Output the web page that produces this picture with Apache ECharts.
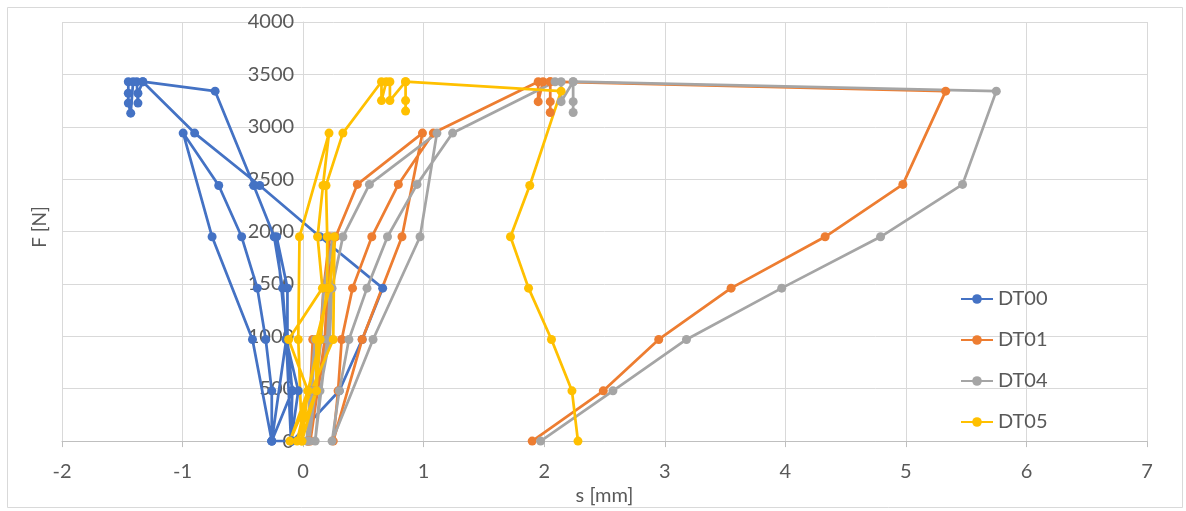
<!DOCTYPE html>
<html>
<head>
<meta charset="utf-8">
<script src="https://cdn.jsdelivr.net/npm/echarts@6/dist/echarts.min.js"></script>
<style>
html,body{margin:0;padding:0;background:#fff;}
#c{width:1186px;height:511px;}
</style>
</head>
<body>
<div id="c"></div>
<script>
// ---- data: [s (mm), F (N)] in measurement order ----
const seriesNames = ['DT00', 'DT01', 'DT04', 'DT05'];
const xTicks = [-2, -1, 0, 1, 2, 3, 4, 5, 6, 7];
const yTicks = [0, 500, 1000, 1500, 2000, 2500, 3000, 3500, 4000];

const dt00 = [
  [-0.10,0],[-0.04,480],[-0.14,970],[-0.10,0],
  [-0.09,480],[-0.13,970],[-0.13,1460],[-0.22,1950],[-0.14,970],[-0.26,0],
  [-0.26,480],[-0.31,970],[-0.38,1460],[-0.51,1950],[-0.70,2440],[-0.995,2940],[-0.755,1950],[-0.42,970],[-0.26,0],
  [-0.09,0],[0.30,480],[0.49,970],[0.66,1460],[0.14,1950],[-0.36,2440],[-0.90,2940],
  [-1.33,3430],[-1.37,3320],[-1.37,3226],[-1.38,3430],[-1.45,3430],[-1.45,3320],[-1.45,3226],[-1.43,3130],[-1.41,3430],[-1.33,3430],
  [-0.73,3340],[-0.41,2440],[-0.24,1950],[-0.17,1460],[-0.14,970],[-0.09,480],[-0.26,0]
];
const dt01 = [
  [0.04,0],[0.06,480],[0.08,970],[0.04,0],
  [0.10,480],[0.14,970],[0.17,1460],[0.22,1950],[0.18,970],[0.06,0],
  [0.12,480],[0.20,970],[0.20,1460],[0.27,1950],[0.45,2450],[0.99,2940],[0.82,1950],[0.49,970],[0.25,0],
  [0.29,480],[0.32,970],[0.41,1460],[0.57,1950],[0.79,2450],[1.08,2940],
  [1.95,3430],[1.95,3240],[1.99,3430],[2.05,3430],[2.05,3240],[2.05,3136],[2.05,3430],
  [5.33,3340],[4.975,2450],[4.33,1950],[3.55,1460],[2.95,970],[2.49,480],[1.90,0]
];
const dt04 = [
  [0.03,0],[0.06,480],[0.10,970],[0.05,0],
  [0.10,480],[0.15,970],[0.17,1460],[0.25,1950],[0.20,970],[0.10,0],
  [0.14,480],[0.22,970],[0.24,1460],[0.33,1950],[0.55,2450],[1.11,2940],[0.97,1950],[0.58,970],[0.24,0],
  [0.30,480],[0.38,970],[0.53,1460],[0.70,1950],[0.945,2450],[1.24,2940],
  [2.09,3430],[2.14,3430],[2.14,3240],[2.24,3430],[2.24,3240],[2.24,3136],[2.24,3430],
  [5.75,3340],[5.47,2450],[4.79,1950],[3.97,1460],[3.18,970],[2.57,480],[1.97,0]
];
const dt05 = [
  [-0.01,0],[0.04,480],[0.14,970],[-0.05,0],
  [0.11,480],[0.11,970],[0.22,1460],[0.26,1950],[0.25,970],[-0.11,0],
  [0.04,480],[-0.12,970],[0.16,1460],[0.12,1950],[0.165,2440],[0.215,2940],[-0.03,1950],[-0.04,970],[-0.01,0],
  [0.11,480],[0.14,970],[0.20,1460],[0.20,1950],[0.19,2440],[0.33,2940],
  [0.65,3430],[0.65,3250],[0.69,3430],[0.72,3430],[0.72,3250],[0.85,3430],[0.85,3250],[0.85,3150],[0.85,3430],
  [2.14,3340],[1.88,2440],[1.72,1950],[1.87,1460],[2.06,970],[2.23,480],[2.28,0]
];
const seriesData = [dt00, dt01, dt04, dt05];
const colors = ['#4472C4', '#ED7D31', '#A5A5A5', '#FFC000'];

const FONT = 'Lato, Carlito, "Liberation Sans", sans-serif';
const TXT = '#595959';

const GRID_LEFT = 62, GRID_RIGHT = 39;
const plotW = 1186 - GRID_LEFT - GRID_RIGHT;
// place the value axis where s = 0, as in the original chart
const yAxisOffset = -plotW * (0 - xTicks[0]) / (xTicks[xTicks.length - 1] - xTicks[0]);

const chart = echarts.init(document.getElementById('c'), null, {renderer: 'canvas'});
chart.setOption({
  animation: false,
  backgroundColor: '#ffffff',
  color: colors,
  textStyle: {fontFamily: FONT},
  grid: {left: GRID_LEFT, right: GRID_RIGHT, top: 22, bottom: 69, containLabel: false},
  graphic: [
    {type: 'rect', left: 5, top: 5, shape: {width: 1175, height: 500},
     style: {fill: 'none', stroke: '#d9d9d9', lineWidth: 1}, silent: true, z: -1},
    {type: 'text', x: 40, y: 227, rotation: Math.PI / 2,
     style: {text: 'F [N]', fill: TXT, font: '19px ' + FONT, textAlign: 'center', textVerticalAlign: 'middle'}}
  ],
  legend: {
    orient: 'vertical', left: 955, top: 284,
    itemWidth: 32, itemHeight: 12, itemGap: 21,
    data: seriesNames,
    textStyle: {color: TXT, fontSize: 20, fontFamily: FONT, lineHeight: 20}
  },
  xAxis: {
    type: 'value', min: xTicks[0], max: xTicks[xTicks.length - 1], interval: 1,
    name: 's [mm]', nameLocation: 'middle', nameGap: 42,
    nameTextStyle: {color: TXT, fontSize: 20, fontFamily: FONT},
    axisLine: {show: true, onZero: false, lineStyle: {color: '#bfbfbf', width: 1}},
    axisTick: {show: true, length: 6, lineStyle: {color: '#bfbfbf'}},
    axisLabel: {color: TXT, fontSize: 20, margin: 20, fontFamily: FONT},
    splitLine: {show: true, lineStyle: {color: '#d9d9d9', width: 1}}
  },
  yAxis: {
    type: 'value', min: yTicks[0], max: yTicks[yTicks.length - 1], interval: 500,
    position: 'left', offset: yAxisOffset,
    axisLine: {show: true, onZero: false, lineStyle: {color: '#d9d9d9', width: 1}},
    axisTick: {show: false},
    axisLabel: {color: TXT, fontSize: 20, margin: 9, fontFamily: FONT,
                formatter: v => String(v)},
    splitLine: {show: true, lineStyle: {color: '#d9d9d9', width: 1}}
  },
  series: seriesNames.map((n, i) => ({
    name: n, type: 'line', data: seriesData[i],
    symbol: 'circle', symbolSize: 9, showAllSymbol: true,
    lineStyle: {width: 2.75, color: colors[i]},
    itemStyle: {color: colors[i]},
    emphasis: {disabled: true}
  }))
});
</script>
</body>
</html>
